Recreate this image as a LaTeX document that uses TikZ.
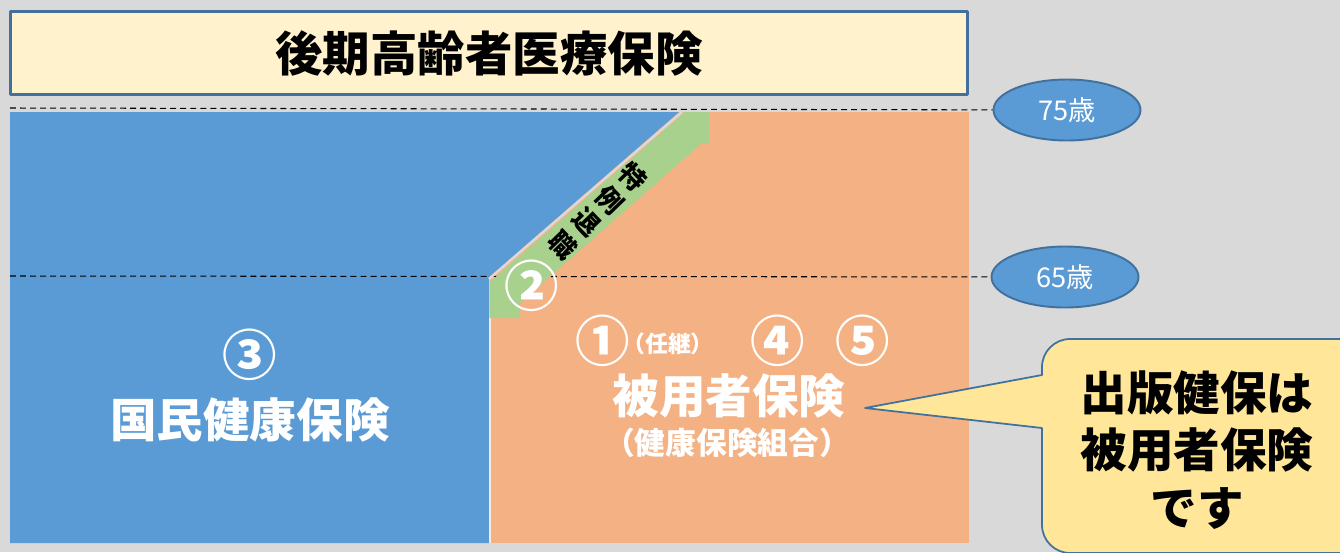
\documentclass[tikz,border=0pt]{standalone}
\usepackage{fontspec}
\newfontfamily\jp{Noto Sans CJK JP}
\usetikzlibrary{shapes.geometric}
\definecolor{haikei}{HTML}{D9D9D9}
\definecolor{kokuho}{HTML}{5B9BD5}
\definecolor{hiyosha}{HTML}{F4B183}
\definecolor{tokurei}{HTML}{A9D18E}
\definecolor{waku}{HTML}{41719C}
\definecolor{titlefill}{HTML}{FFF2CC}
\definecolor{fukidashi}{HTML}{FFE699}
\begin{document}
\begin{tikzpicture}[x=0.02cm, y=-0.02cm, line join=round, font=\jp,
	bigwhite/.style={text=white, inner sep=0, font=\jp\bfseries\fontsize{26.5}{30}\selectfont},
	numwhite/.style={text=white, inner sep=0, font=\jp\bfseries\fontsize{31}{34}\selectfont},
	smallwhite/.style={text=white, inner sep=0, font=\jp\bfseries\fontsize{17.5}{20}\selectfont},
	agemark/.style={ellipse, draw=waku, line width=1.1pt, fill=kokuho, text=white, inner sep=0,
		minimum width=2.94cm, minimum height=1.22cm, font=\jp\fontsize{15.5}{18}\selectfont},
	kugiri/.style={dashed, dash pattern=on 3.4pt off 2.3pt, line width=0.6pt}]
	\def\W{1340} \def\H{552}
	\def\xl{10} \def\xm{490} \def\xr{969}
	\def\yt{112} \def\yb{543}
	\useasboundingbox (0,0) rectangle (\W,\H);
	\fill[haikei] (0,0) rectangle (\W,\H);
	% areas
	\fill[hiyosha] (\xm,\yt) rectangle (\xr,\yb);
	\fill[kokuho] (\xl,\yt)--(679,\yt)--(489,277)--(489,\yb)--(\xl,\yb)--cycle;
	\draw[white!70!hiyosha, line width=0.8pt] (\xm,318)--(\xm,\yb);
	% ages
	\node[agemark] (age75) at (1067,110) {75歳};
	\node[agemark] (age65) at (1065,277) {65歳};
	\coordinate (l75) at (\xl,108);
	\coordinate (l65) at (\xl,276);
	\draw[kugiri] (l75)--(age75);
	\draw[kugiri] (l65)--(age65);
	% tokurei taishoku
	\fill[tokurei] (685,\yt)--(709,\yt)--(709,143)--(702,143)--(520,303)--(520,318)--(\xm,318)--(\xm,282)--cycle;
	\draw[haikei, line width=1.4pt] (682,\yt)--(489,279);
	\node[rotate=-46, inner sep=0, align=center, font=\jp\bfseries\fontsize{15}{18.4}\selectfont] (tokutai) at (598,211) {特\\例\\退\\職};
	\node[numwhite] (n2) at (532,286) {②};
	% labels
	\node[numwhite] (n3) at (250,355) {③};
	\node[bigwhite] (kokuhotxt) at (250,420) {国民健康保険};
	\node[numwhite] (n1) at (603,341) {①};
	\node[text=white, inner sep=0, font=\jp\bfseries\fontsize{13}{15}\selectfont] (ninkei) at (668,344) {（任継）};
	\node[numwhite] (n4) at (778,341) {④};
	\node[numwhite] (n5) at (863,341) {⑤};
	\node[bigwhite] (hiyoshatxt) at (729,396) {被用者保険};
	\node[smallwhite] (kenpo) at (727,443) {（健康保険組合）};
	% title
	\node[draw=waku, line width=1.6pt, fill=titlefill, minimum width=19.14cm, minimum height=1.66cm,
		font=\jp\bfseries\fontsize{27}{30}\selectfont] (title) at (489,53) {後期高齢者医療保険};
	% callout
	\coordinate (tip) at (865,408);
	\begin{scope}
		\clip (0,0) rectangle (\W,\H);
		\draw[fill=fukidashi, draw=waku, line width=1pt] (tip)--(1042,428)
			{[rounded corners=16pt] --(1042,553)--(1370,553)--(1370,339)--(1042,339)}--(1042,375)--cycle;
	\end{scope}
	\node[align=center, inner sep=0, font=\jp\bfseries\fontsize{26.5}{32.6}\selectfont] (shuppan) at (1197,450) {出版健保は\\被用者保険\\です};
\end{tikzpicture}
\end{document}
